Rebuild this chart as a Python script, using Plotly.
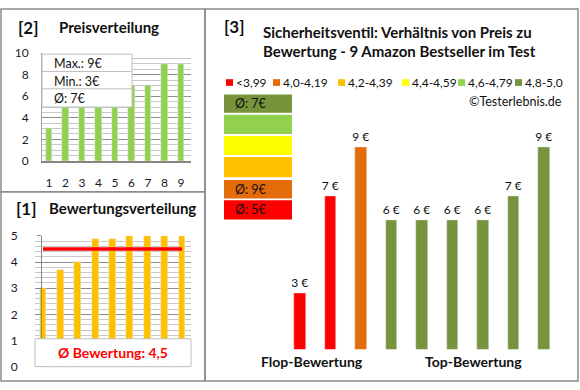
import plotly.graph_objects as go

# ---------------- data ----------------
price_idx = [1, 2, 3, 4, 5, 6, 7, 8, 9]
prices_sorted = [3, 6, 6, 6, 6, 7, 7, 9, 9]
rating_idx = [1, 2, 3, 4, 5, 6, 7, 8, 9]
ratings_sorted = [3.0, 3.7, 4.0, 4.9, 4.9, 5.0, 5.0, 5.0, 5.0]
avg_rating = 4.5

prod_idx = [1, 2, 3, 4, 5, 6, 7, 8, 9]
prod_prices = [3, 7, 9, 6, 6, 6, 6, 7, 9]
prod_colors = ["#FF0000", "#FF0000", "#E46C0A", "#77933C", "#77933C",
               "#77933C", "#77933C", "#77933C", "#77933C"]
group_labels = ["Flop-Bewertung", "Top-Bewertung"]
group_pos = [1.39, 6.7]

legend_labels = ["<3,99", "4,0-4,19", "4,2-4,39", "4,4-4,59", "4,6-4,79", "4,8-5,0"]
legend_colors = ["#FF0000", "#E46C0A", "#FFC000", "#FFFF00", "#92D050", "#77933C"]

W, H = 580, 390
FONT = "Lato"
def X(px): return px / W
def Y(py): return 1 - py / H

fig = go.Figure()

# [2] price distribution
fig.add_trace(go.Bar(x=price_idx, y=prices_sorted, marker_color="#92D050",
                     width=0.42, xaxis="x", yaxis="y", showlegend=False))
# [1] rating distribution
fig.add_trace(go.Bar(x=rating_idx, y=ratings_sorted, marker_color="#FFC000",
                     width=0.4, xaxis="x2", yaxis="y2", showlegend=False))
fig.add_trace(go.Scatter(x=[rating_idx[0], rating_idx[-1]], y=[avg_rating, avg_rating],
                         mode="lines", line=dict(color="#FF0000", width=3.5),
                         xaxis="x2", yaxis="y2", showlegend=False))
# [3] price vs rating
fig.add_trace(go.Bar(x=prod_idx, y=prod_prices, marker_color=prod_colors,
                     width=0.39, text=[f"{v} €" for v in prod_prices],
                     textposition="outside", cliponaxis=False, constraintext="none",
                     textfont=dict(family=FONT, size=12, color="#111"),
                     xaxis="x3", yaxis="y3", showlegend=False))

shapes = []
ann = []
border = dict(color="#8C8C8C", width=1.5)
# panel frames
shapes.append(dict(type="rect", xref="paper", yref="paper", x0=X(1), x1=X(205), y0=Y(191), y1=Y(1), line=border))
shapes.append(dict(type="rect", xref="paper", yref="paper", x0=X(1), x1=X(205), y0=Y(388), y1=Y(191), line=border))
shapes.append(dict(type="rect", xref="paper", yref="paper", x0=X(205), x1=X(578), y0=Y(388), y1=Y(1), line=border))

# price info box
box_line = dict(color="#BFBFBF", width=1)
shapes.append(dict(type="rect", xref="paper", yref="paper", x0=X(42), x1=X(132), y0=Y(103), y1=Y(48),
                   fillcolor="white", line=box_line))
for sy in (66, 84):
    shapes.append(dict(type="line", xref="paper", yref="paper", x0=X(42), x1=X(132), y0=Y(sy), y1=Y(sy), line=box_line))
avg_price = round(sum(prices_sorted) / len(prices_sorted))
for txt, yy in ((f"Max.: {max(prices_sorted)}€", 58), (f"Min.: {min(prices_sorted)}€", 76), (f"Ø: {avg_price}€", 94)):
    ann.append(dict(text=txt, xref="paper", yref="paper", x=X(52), y=Y(yy), xanchor="left", yanchor="middle",
                    showarrow=False, font=dict(family=FONT, size=12.5, color="#111")))

# rating box
shapes.append(dict(type="rect", xref="paper", yref="paper", x0=X(35), x1=X(191), y0=Y(373), y1=Y(344),
                   fillcolor="white", line=box_line))
ann.append(dict(text="<b>Ø Bewertung: " + f"{avg_rating:.1f}".replace(".", ",") + "</b>", xref="paper", yref="paper",
                x=X(113), y=Y(358), xanchor="center", yanchor="middle", showarrow=False,
                font=dict(family=FONT, size=14, color="#FF0000")))

# titles
def title(txt, x, y, size=15, anchor="left"):
    ann.append(dict(text=f"<b>{txt}</b>", xref="paper", yref="paper", x=X(x), y=Y(y), xanchor=anchor,
                    yanchor="middle", showarrow=False, font=dict(family=FONT, size=size, color="#111")))
title("[2]", 16, 20, 17)
title("Preisverteilung", 57, 20)
title("[1]", 14, 208, 17)
title("Bewertungsverteilung", 47, 208)
title("[3]", 222, 19, 17)
title("Sicherheitsventil: Verhältnis von Preis zu", 261, 25)
title("Bewertung - 9 Amazon Bestseller im Test", 261, 45)

# legend
leg_x = [226, 273, 338, 402, 458, 515]
for lx, lab, col in zip(leg_x, legend_labels, legend_colors):
    shapes.append(dict(type="rect", xref="paper", yref="paper", x0=X(lx), x1=X(lx + 7), y0=Y(81), y1=Y(74),
                       fillcolor=col, line=dict(width=0)))
    ann.append(dict(text=lab, xref="paper", yref="paper", x=X(lx + 8), y=Y(77), xanchor="left", yanchor="middle",
                    showarrow=False, font=dict(family=FONT, size=12, color="#111")))
ann.append(dict(text="©Testerlebnis.de", xref="paper", yref="paper", x=X(564), y=Y(97), xanchor="right",
                yanchor="middle", showarrow=False, font=dict(family=FONT, size=12.5, color="#111")))

# color category boxes with group averages
def grp_avg(col):
    vals = [p for p, c in zip(prod_prices, prod_colors) if c == col]
    return round(sum(vals) / len(vals)) if vals else None
rows = [(90, 109, "#77933C"), (111, 131, "#92D050"), (133, 153, "#FFFF00"),
        (155, 176, "#FFC000"), (179, 198, "#E46C0A"), (200, 220, "#FF0000")]
for y0, y1, col in rows:
    shapes.append(dict(type="rect", xref="paper", yref="paper", x0=X(224), x1=X(292), y0=Y(y1), y1=Y(y0),
                       fillcolor=col, line=dict(width=0)))
    a = grp_avg(col)
    if a is not None:
        ann.append(dict(text=f"Ø: {a}€", xref="paper", yref="paper", x=X(233), y=Y((y0 + y1) / 2),
                        xanchor="left", yanchor="middle", showarrow=False,
                        font=dict(family=FONT, size=12.5, color="#111")))

# group labels
for lab, gx in zip(group_labels, group_pos):
    ann.append(dict(text=f"<b>{lab}</b>", xref="x3", yref="paper", x=gx, y=Y(368), xanchor="center",
                    yanchor="middle", showarrow=False, font=dict(family=FONT, size=14, color="#111")))

tickfont = dict(family=FONT, size=12, color="#1a1a2a")
fig.update_layout(
    width=W, height=H, margin=dict(l=0, r=0, t=0, b=0),
    paper_bgcolor="white", plot_bgcolor="rgba(0,0,0,0)",
    shapes=shapes, annotations=ann, bargap=0,
    xaxis=dict(domain=[X(42), X(191)], range=[0.576, 9.606], tickvals=price_idx, showgrid=False,
               showline=True, linecolor="#868686", linewidth=1.5, ticks="", tickfont=tickfont,
               ticklabelstandoff=10, zeroline=False, fixedrange=True),
    yaxis=dict(domain=[Y(159), Y(47)], range=[0, 10], dtick=2, showgrid=True, gridcolor="#8C8C8C",
               minor=dict(dtick=0.5, showgrid=True, gridcolor="#C8C8C8"),
               showline=True, linecolor="#A0A0A0", ticks="", tickfont=tickfont, ticklabelstandoff=10,
               zeroline=False, fixedrange=True),
    xaxis2=dict(domain=[X(35), X(191)], range=[0.54, 9.518], showticklabels=False, showgrid=False,
                showline=False, zeroline=False, ticks="", fixedrange=True),
    yaxis2=dict(domain=[Y(373), Y(237)], range=[0, 5], dtick=1, showgrid=True, gridcolor="#8C8C8C",
                minor=dict(dtick=0.2, showgrid=True, gridcolor="#C8C8C8"),
                showline=True, linecolor="#868686", ticks="outside", ticklen=4, tickcolor="#868686",
                tickfont=tickfont, ticklabelstandoff=17, zeroline=False, fixedrange=True),
    xaxis3=dict(domain=[X(270), X(575)], range=[0.0164, 10.016], visible=False, fixedrange=True),
    yaxis3=dict(domain=[Y(355), Y(100)], range=[0.71, 10.776], visible=False, fixedrange=True),
)

fig.write_html("out.html", config={"displayModeBar": False},
               post_script="document.body.style.margin='0';document.body.style.overflow='hidden';")
